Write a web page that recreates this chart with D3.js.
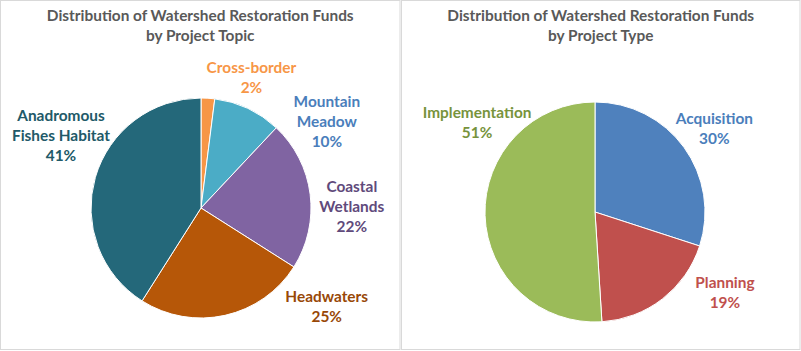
<!DOCTYPE html>
<html>
<head>
<meta charset="utf-8">
<script src="https://cdn.jsdelivr.net/npm/d3@7"></script>
<style>
  body { margin: 0; background: #fff; }
  text { font-family: Lato, "Open Sans", sans-serif; font-weight: bold; }
</style>
</head>
<body>
<div id="viz"></div>
<script>
// data
var topicNames = ["Cross-border", "Mountain Meadow", "Coastal Wetlands", "Headwaters", "Anadromous Fishes Habitat"];
var topicLines = [["Cross-border"], ["Mountain", "Meadow"], ["Coastal", "Wetlands"], ["Headwaters"], ["Anadromous", "Fishes Habitat"]];
var topicShares = [2, 10, 22, 25, 41];

var typeNames = ["Acquisition", "Planning", "Implementation"];
var typeLines = [["Acquisition"], ["Planning"], ["Implementation"]];
var typeShares = [30, 19, 51];

var width = 801, height = 351;
var radius = 110;
var lineHeight = 20;

// styling / layout
var panels = [
  {
    x: 0.5, w: 399.5, cx: 201, cy: 208,
    title: ["Distribution of Watershed Restoration Funds", "by Project Topic"],
    names: topicNames, lines: topicLines, values: topicShares,
    fills: ['#F79646', '#4BACC6', '#8064A2', '#B65708', '#24687A'],
    labelColors: ['#F79646', '#4A7EBB', '#604A7B', '#984807', '#215968'],
    nudge: [[41, 19], [62, 49], [2, 17], [93, -48], [4, -31]]
  },
  {
    x: 401.5, w: 398.5, cx: 595, cy: 212,
    title: ["Distribution of Watershed Restoration Funds", "by Project Type"],
    names: typeNames, lines: typeLines, values: typeShares,
    fills: ['#4F81BD', '#C0504D', '#9BBB59'],
    labelColors: ['#4A7EBB', '#C0504D', '#77933C'],
    nudge: [[-2, 5], [38, -38], [32, -94]]
  }
];

var svg = d3.select('#viz')
  .append('svg')
  .attr('width', width)
  .attr('height', height);

var pie = d3.pie().sort(null).value(function(d) { return d; });
var arc = d3.arc().innerRadius(0).outerRadius(radius);
var labelArc = d3.arc().innerRadius(radius + 40).outerRadius(radius + 40);

panels.forEach(function(p) {
  svg.append('rect')
    .attr('x', p.x).attr('y', 0.5)
    .attr('width', p.w).attr('height', 349)
    .attr('fill', 'none')
    .attr('stroke', '#D9D9D9');

  var titleX = p.x + p.w / 2;
  svg.append('text')
    .attr('text-anchor', 'middle')
    .attr('fill', '#595959')
    .style('font-size', '15.4px')
    .selectAll('tspan').data(p.title)
    .enter().append('tspan')
    .attr('x', titleX)
    .attr('y', function(d, i) { return 21 + i * 20; })
    .text(function(d) { return d; });

  var g = svg.append('g')
    .attr('transform', 'translate(' + p.cx + ',' + p.cy + ')');

  var arcs = pie(p.values);

  g.selectAll('path').data(arcs)
    .enter().append('path')
    .attr('d', arc)
    .attr('fill', function(d, i) { return p.fills[i]; })
    .attr('stroke', '#fff')
    .attr('stroke-width', 1);

  var labels = g.selectAll('text.lbl').data(arcs)
    .enter().append('text')
    .attr('class', 'lbl')
    .attr('text-anchor', 'middle')
    .attr('fill', function(d, i) { return p.labelColors[i]; })
    .style('font-size', '15.4px');

  labels.each(function(d, i) {
    var c = labelArc.centroid(d);
    var x = c[0] + p.nudge[i][0];
    var y = c[1] + p.nudge[i][1];
    var rows = p.lines[i].concat([d.data + '%']);
    var top = y - (rows.length - 1) * lineHeight / 2;
    d3.select(this).selectAll('tspan').data(rows)
      .enter().append('tspan')
      .attr('x', x)
      .attr('y', function(r, k) { return top + k * lineHeight; })
      .attr('dy', '0.35em')
      .text(function(r) { return r; });
  });
});
</script>
</body>
</html>
